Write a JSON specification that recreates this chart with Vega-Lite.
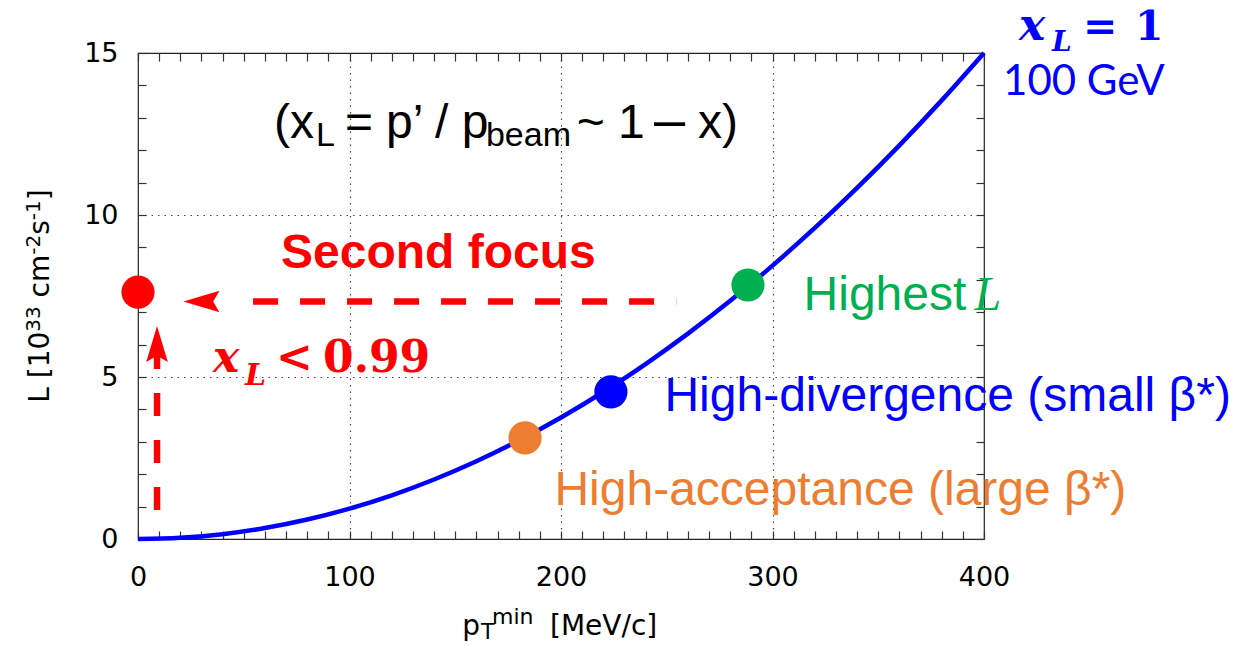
{
  "$schema": "https://vega.github.io/schema/vega-lite/v6.json",
  "width": 846,
  "height": 486,
  "autosize": "none",
  "padding": {"left": 138, "top": 53, "right": 251, "bottom": 107},
  "background": "white",
  "config": {"view": {"stroke": "#222", "strokeWidth": 1.2}},
  "encoding": {
    "x": {"field": "x", "type": "quantitative", "scale": {"domain": [0, 400], "nice": false, "zero": false}, "axis": null},
    "y": {"field": "y", "type": "quantitative", "scale": {"domain": [0, 15], "nice": false, "zero": false}, "axis": null}
  },
  "resolve": {"axis": {"x": "independent", "y": "independent"}},
  "layer": [
    {
      "data": {"values": [
        {"x": 0, "y": 0}, {"x": 20, "y": 0.0375}, {"x": 40, "y": 0.15}, {"x": 60, "y": 0.3375},
        {"x": 80, "y": 0.6}, {"x": 100, "y": 0.9375}, {"x": 120, "y": 1.35}, {"x": 140, "y": 1.8375},
        {"x": 160, "y": 2.4}, {"x": 180, "y": 3.0375}, {"x": 200, "y": 3.75}, {"x": 220, "y": 4.5375},
        {"x": 240, "y": 5.4}, {"x": 260, "y": 6.3375}, {"x": 280, "y": 7.35}, {"x": 300, "y": 8.4375},
        {"x": 320, "y": 9.6}, {"x": 340, "y": 10.8375}, {"x": 360, "y": 12.15}, {"x": 380, "y": 13.5375},
        {"x": 400, "y": 15}
      ]},
      "mark": {"type": "line", "color": "#0000ff", "strokeWidth": 4.5, "interpolate": "monotone"},
      "encoding": {
        "x": {"field": "x", "type": "quantitative", "scale": {"domain": [0, 400], "nice": false, "zero": false},
          "axis": {"orient": "bottom", "title": null, "domain": false,
            "values": [0,10,20,30,40,50,60,70,80,90,100,110,120,130,140,150,160,170,180,190,200,210,220,230,240,250,260,270,280,290,300,310,320,330,340,350,360,370,380,390,400],
            "labelExpr": "datum.value % 100 === 0 ? datum.label : ''",
            "labelFont": "DejaVu Sans", "labelFontSize": 27, "labelColor": "#000",
            "labelBaseline": "alphabetic", "labelPadding": 54, "labelFlush": false, "labelOverlap": false,
            "ticks": true, "tickColor": "#333", "tickWidth": 1.2, "tickSize": -8,
            "grid": true, "gridColor": "#444", "gridDash": [1.5, 5], "gridWidth": 1.2,
            "gridOpacity": {"condition": {"test": "datum.value % 100 === 0 && datum.value > 0 && datum.value < 400", "value": 1}, "value": 0}
          }},
        "y": {"field": "y", "type": "quantitative", "scale": {"domain": [0, 15], "nice": false, "zero": false},
          "axis": {"orient": "left", "title": null, "domain": false,
            "values": [0,1,2,3,4,5,6,7,8,9,10,11,12,13,14,15],
            "labelExpr": "datum.value % 5 === 0 ? datum.label : ''",
            "labelFont": "DejaVu Sans", "labelFontSize": 27, "labelColor": "#000",
            "labelBaseline": "middle", "labelPadding": 28, "labelFlush": false, "labelOverlap": false,
            "ticks": true, "tickColor": "#333", "tickWidth": 1.2, "tickSize": -8,
            "grid": true, "gridColor": "#444", "gridDash": [1.5, 5], "gridWidth": 1.2,
            "gridOpacity": {"condition": {"test": "datum.value % 5 === 0 && datum.value > 0 && datum.value < 15", "value": 1}, "value": 0}
          }}
      }
    },
    {
      "data": {"values": [
        {"name": "second", "x": 0, "y": 7.62},
        {"name": "highest", "x": 288.4, "y": 7.84},
        {"name": "divergence", "x": 223.6, "y": 4.54},
        {"name": "acceptance", "x": 183.0, "y": 3.12}
      ]},
      "mark": {"type": "point", "filled": true, "size": 1100, "opacity": 1},
      "encoding": {
        "x": {"field": "x", "type": "quantitative", "scale": {"domain": [0, 400], "nice": false, "zero": false},
          "axis": {"orient": "top", "title": null, "domain": false, "labels": false, "grid": false,
            "values": [0,10,20,30,40,50,60,70,80,90,100,110,120,130,140,150,160,170,180,190,200,210,220,230,240,250,260,270,280,290,300,310,320,330,340,350,360,370,380,390,400],
            "ticks": true, "tickColor": "#333", "tickWidth": 1.2, "tickSize": -8
          }},
        "y": {"field": "y", "type": "quantitative", "scale": {"domain": [0, 15], "nice": false, "zero": false},
          "axis": {"orient": "right", "title": null, "domain": false, "labels": false, "grid": false,
            "values": [0,1,2,3,4,5,6,7,8,9,10,11,12,13,14,15],
            "ticks": true, "tickColor": "#333", "tickWidth": 1.2, "tickSize": -8
          }},
        "color": {"field": "name", "type": "nominal", "legend": null,
          "scale": {"domain": ["second", "highest", "divergence", "acceptance"], "range": ["#ff0000", "#00b050", "#0000ff", "#ed7d31"]}}
      }
    },
    {
      "data": {"values": [{"x": 54.4, "x2": 254.5, "y": 7.33}]},
      "mark": {"type": "rule", "color": "#ff0000", "strokeWidth": 6.5, "strokeDash": [25, 22]},
      "encoding": {"x2": {"field": "x2"}}
    },
    {
      "data": {"values": [{"x": 9.0, "y": 0.895, "y2": 5.96}]},
      "mark": {"type": "rule", "color": "#ff0000", "strokeWidth": 6.5, "strokeDash": [23, 24]},
      "encoding": {"y2": {"field": "y2"}}
    },
    {
      "data": {"values": [{"x": 30.0, "y": 7.33}]},
      "mark": {"type": "point", "filled": true, "opacity": 1, "color": "#ff0000", "size": 1300, "shape": "M -1 0 L 1 -0.6 L 0.65 0 L 1 0.6 Z"}
    },
    {
      "data": {"values": [{"x": 9.0, "y": 6.02}]},
      "mark": {"type": "point", "filled": true, "opacity": 1, "color": "#ff0000", "size": 1300, "shape": "M 0 -1 L 0.6 1 L 0 0.65 L -0.6 1 Z"}
    },
    {
      "data": {"values": [{"t": "(x", "x": 64.3, "y": 12.376}, {"t": "=", "x": 97.9, "y": 12.376}, {"t": "p’ / p", "x": 117.3, "y": 12.376}, {"t": "~ 1", "x": 207.4, "y": 12.376}, {"t": "x)", "x": 264.8, "y": 12.376}]},
      "mark": {"type": "text", "align": "left", "baseline": "alphabetic", "font": "Liberation Sans", "fontSize": 48, "color": "#000"},
      "encoding": {"text": {"field": "t"}}
    },
    {
      "data": {"values": [{"t": "L", "x": 84.2, "y": 12.13}, {"t": "beam", "x": 164.5, "y": 12.13}]},
      "mark": {"type": "text", "align": "left", "baseline": "alphabetic", "font": "Liberation Sans", "fontSize": 34, "color": "#000"},
      "encoding": {"text": {"field": "t"}}
    },
    {
      "data": {"values": [{"t": "–", "x": 244.0, "y": 12.376}]},
      "mark": {"type": "text", "align": "left", "baseline": "alphabetic", "font": "Liberation Sans", "fontSize": 56, "color": "#000"},
      "encoding": {"text": {"field": "t"}}
    },
    {
      "data": {"values": [{"t": "Second focus", "x": 67.6, "y": 8.364}]},
      "mark": {"type": "text", "align": "left", "baseline": "alphabetic", "font": "Liberation Sans", "fontSize": 48, "fontWeight": "bold", "color": "#ff0000"},
      "encoding": {"text": {"field": "t"}}
    },
    {
      "data": {"values": [{"t": "x", "x": 35.5, "y": 5.154}]},
      "mark": {"type": "text", "align": "left", "baseline": "alphabetic", "font": "DejaVu Serif", "fontSize": 44, "fontWeight": "bold", "fontStyle": "italic", "color": "#ff0000"},
      "encoding": {"text": {"field": "t"}}
    },
    {
      "data": {"values": [{"t": "L", "x": 50.6, "y": 4.753}]},
      "mark": {"type": "text", "align": "left", "baseline": "alphabetic", "font": "DejaVu Serif", "fontSize": 30, "fontWeight": "bold", "fontStyle": "italic", "color": "#ff0000"},
      "encoding": {"text": {"field": "t"}}
    },
    {
      "data": {"values": [{"t": "<", "x": 65.2, "y": 5.154}, {"t": "0.99", "x": 87.5, "y": 5.154}]},
      "mark": {"type": "text", "align": "left", "baseline": "alphabetic", "font": "DejaVu Serif", "fontSize": 44, "fontWeight": "bold", "color": "#ff0000"},
      "encoding": {"text": {"field": "t"}}
    },
    {
      "data": {"values": [{"t": "Highest", "x": 314.7, "y": 7.068}]},
      "mark": {"type": "text", "align": "left", "baseline": "alphabetic", "font": "Liberation Sans", "fontSize": 48, "color": "#00b050"},
      "encoding": {"text": {"field": "t"}}
    },
    {
      "data": {"values": [{"t": "L", "x": 395.5, "y": 7.068}]},
      "mark": {"type": "text", "align": "left", "baseline": "alphabetic", "font": "Liberation Serif", "fontSize": 48, "fontStyle": "italic", "color": "#00b050"},
      "encoding": {"text": {"field": "t"}}
    },
    {
      "data": {"values": [{"t": "High-divergence (small β*)", "x": 248.9, "y": 3.951}]},
      "mark": {"type": "text", "align": "left", "baseline": "alphabetic", "font": "Liberation Sans", "fontSize": 48, "color": "#0000ff"},
      "encoding": {"text": {"field": "t"}}
    },
    {
      "data": {"values": [{"t": "High-acceptance (large β*)", "x": 196.9, "y": 1.049}]},
      "mark": {"type": "text", "align": "left", "baseline": "alphabetic", "font": "Liberation Sans", "fontSize": 48, "color": "#ed7d31"},
      "encoding": {"text": {"field": "t"}}
    },
    {
      "data": {"values": [{"t": "x", "x": 416.5, "y": 15.40}]},
      "mark": {"type": "text", "align": "left", "baseline": "alphabetic", "font": "DejaVu Serif", "fontSize": 44, "fontWeight": "bold", "fontStyle": "italic", "color": "#0000ff"},
      "encoding": {"text": {"field": "t"}}
    },
    {
      "data": {"values": [{"t": "L", "x": 432.2, "y": 15.06}]},
      "mark": {"type": "text", "align": "left", "baseline": "alphabetic", "font": "DejaVu Serif", "fontSize": 28, "fontWeight": "bold", "fontStyle": "italic", "color": "#0000ff"},
      "encoding": {"text": {"field": "t"}}
    },
    {
      "data": {"values": [{"t": "=", "x": 446.8, "y": 15.40}, {"t": "1", "x": 471.4, "y": 15.40}]},
      "mark": {"type": "text", "align": "left", "baseline": "alphabetic", "font": "DejaVu Serif", "fontSize": 41, "fontWeight": "bold", "color": "#0000ff"},
      "encoding": {"text": {"field": "t"}}
    },
    {
      "data": {"values": [{"t": "100 GeV", "x": 409.0, "y": 13.70}]},
      "mark": {"type": "text", "align": "left", "baseline": "alphabetic", "font": "Lato", "fontSize": 42, "color": "#0000ff"},
      "encoding": {"text": {"field": "t"}}
    },
    {
      "data": {"values": [{"t": "p", "x": 153.3, "y": -2.963}, {"t": "[MeV/c]", "x": 194.8, "y": -2.963}]},
      "mark": {"type": "text", "align": "left", "baseline": "alphabetic", "font": "DejaVu Sans", "fontSize": 28, "color": "#000"},
      "encoding": {"text": {"field": "t"}}
    },
    {
      "data": {"values": [{"t": "T", "x": 162.2, "y": -3.086}, {"t": "min", "x": 167.4, "y": -2.623}]},
      "mark": {"type": "text", "align": "left", "baseline": "alphabetic", "font": "DejaVu Sans", "fontSize": 22, "color": "#000"},
      "encoding": {"text": {"field": "t"}}
    },
    {
      "data": {"values": [{"t": "L [10", "x": -42.1, "y": 4.204}, {"t": "cm", "x": -42.1, "y": 7.454}, {"t": "s", "x": -42.1, "y": 9.389}, {"t": "]", "x": -42.1, "y": 10.457}]},
      "mark": {"type": "text", "align": "left", "baseline": "alphabetic", "angle": 270, "font": "DejaVu Sans", "fontSize": 28, "color": "#000"},
      "encoding": {"text": {"field": "t"}}
    },
    {
      "data": {"values": [{"t": "33", "x": -46.3, "y": 6.395}, {"t": "-2", "x": -46.3, "y": 8.772}, {"t": "-1", "x": -46.3, "y": 9.839}]},
      "mark": {"type": "text", "align": "left", "baseline": "alphabetic", "angle": 270, "font": "DejaVu Sans", "fontSize": 20, "color": "#000"},
      "encoding": {"text": {"field": "t"}}
    }
  ]
}
